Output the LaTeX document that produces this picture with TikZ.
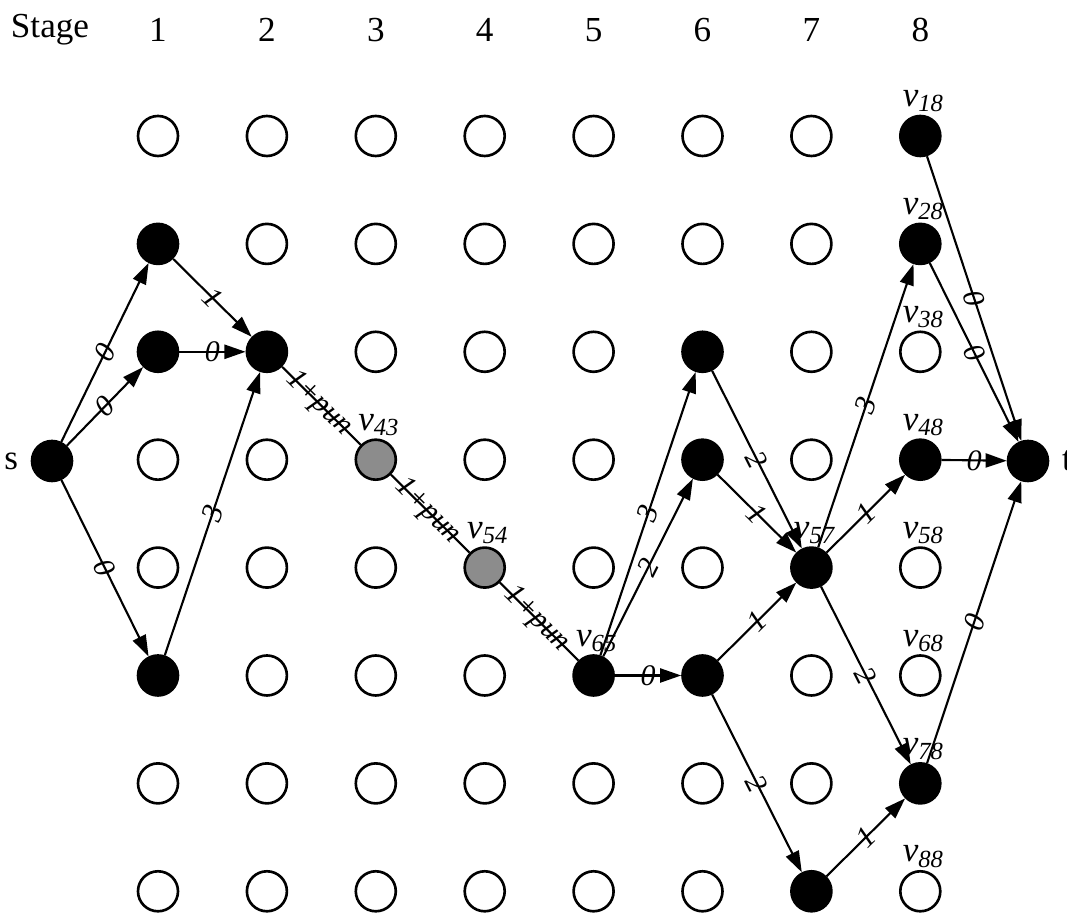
\documentclass[tikz,border=0pt]{standalone}
\usepackage{fontspec}
\setmainfont{Liberation Serif}
\usetikzlibrary{arrows.meta,positioning}

\tikzset{
  vert/.style={circle,draw,line width=0.75pt,minimum size=0.4cm,inner sep=0pt},
  open/.style={vert},
  full/.style={vert,fill=black},
  grey/.style={vert,fill=black!45},
  hdr/.style={inner sep=0pt,font=\fontsize{10}{12}\selectfont},
  vtag/.style={inner sep=0.5pt,font=\fontsize{10}{11}\selectfont\itshape},
  wt/.style={sloped,inner sep=0pt,font=\fontsize{8.5}{10}\selectfont\itshape},
  arc/.style={line width=0.6pt,-{Triangle[length=6pt,width=4pt]}},
  pline/.style={line width=0.6pt},
  % vertices on the paths
  st21/.style={full}, st31/.style={full}, st61/.style={full},
  st32/.style={full}, st43/.style={grey}, st54/.style={grey},
  st65/.style={full}, st36/.style={full}, st46/.style={full},
  st66/.style={full}, st57/.style={full}, st87/.style={full},
  st18/.style={full}, st28/.style={full}, st48/.style={full},
  st78/.style={full}
}

\begin{document}
\begin{tikzpicture}
  \useasboundingbox (0,0) rectangle (10.67,-9.13);

  \node[hdr] (stage) at (0.50,-0.30) {Stage};
  \foreach \c in {1,...,8}{
    \node[hdr] (h\c) at ({1.58+(\c-1)*1.089},-0.30) {\c};
    \foreach \r in {1,...,8}
      \node[open,st\r\c/.try] (v\r\c) at ({1.58+(\c-1)*1.089},{-1.36-(\r-1)*1.079}) {};
  }

  \node[full] (s) at (0.52,-4.61) {};
  \node[hdr,left=0.12cm of s] (sl) {s};
  \node[full] (t) at (10.28,-4.61) {};
  \node[hdr,right=0.12cm of t] (tl) {t};

  \foreach \v in {18,28,38,48,58,68,78,88,43,54,65,57}
    \node[vtag,above=0pt of v\v,xshift=1pt] (n\v) {v\textsubscript{\v}};

  \draw (s) edge[arc] node[wt]{0} (v21);
  \draw (s) edge[arc] node[wt]{0} (v31);
  \draw (s) edge[arc] node[wt]{0} (v61);
  \draw (v21) edge[arc] node[wt]{1} (v32);
  \draw (v31) edge[arc] node[wt]{0} (v32);
  \draw (v61) edge[arc] node[wt]{3} (v32);

  \draw (v32) edge[pline] node[wt,pos=0.47]{1+pun} (v43);
  \draw (v43) edge[pline] node[wt,pos=0.47]{1+pun} (v54);
  \draw (v54) edge[pline] node[wt,pos=0.47]{1+pun} (v65);

  \draw (v65) edge[arc] node[wt]{3} (v36);
  \draw (v65) edge[arc] node[wt]{2} (v46);
  \draw (v65) edge[arc] node[wt]{0} (v66);
  \draw (v36) edge[arc] node[wt]{2} (v57);
  \draw (v46) edge[arc] node[wt]{1} (v57);
  \draw (v66) edge[arc] node[wt]{1} (v57);
  \draw (v66) edge[arc] node[wt]{2} (v87);

  \draw (v57) edge[arc] node[wt]{3} (v28);
  \draw (v57) edge[arc] node[wt]{1} (v48);
  \draw (v57) edge[arc] node[wt]{2} (v78);
  \draw (v87) edge[arc] node[wt]{1} (v78);

  \draw (v18) edge[arc] node[wt]{0} (t);
  \draw (v28) edge[arc] node[wt]{0} (t);
  \draw (v48) edge[arc] node[wt]{0} (t);
  \draw (v78) edge[arc] node[wt]{0} (t);
\end{tikzpicture}
\end{document}
